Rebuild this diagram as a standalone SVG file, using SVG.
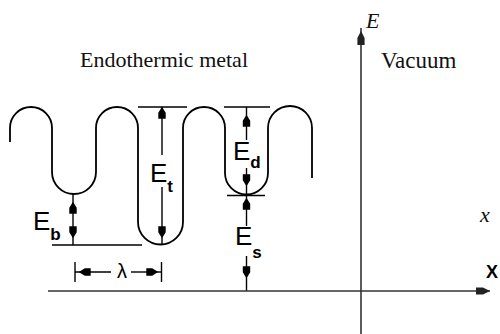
<svg xmlns="http://www.w3.org/2000/svg" width="500" height="334" viewBox="0 0 500 334">
<style>
.ln{fill:none;stroke:#000;stroke-width:1.4}
.ax{fill:none;stroke:#333;stroke-width:1.6}
.wave{fill:none;stroke:#000;stroke-width:1.8;stroke-linejoin:round}
.ser{font-family:"Liberation Serif","Times New Roman",serif;fill:#111}
.lab{font-family:"Liberation Sans",Arial,sans-serif;font-size:26px;fill:#000}
.sub{font-size:17px;font-weight:bold}
.ah{fill:#000}
</style>
<defs>
<path id="ah" d="M0,0 L3,5 L3,10 L-3,10 L-3,5 Z"/>
</defs>
<rect width="500" height="334" fill="#fff"/>
<g id="wave">
<path class="wave" d="M10,142 L10,128 A21,21 0 0 1 52,128 L52,172 A22,22 0 0 0 96,172 L96,128 A21,21 0 0 1 138,128 L138,222 A22.5,22.5 0 0 0 183,222 L183,128 A21,21 0 0 1 225,128 L225,173 A21.5,21.5 0 0 0 268,173 L268,128 A22,22 0 0 1 312,128 L312,178"/>
</g>
<g id="connectors">
<g id="refLines" class="ln">
<line x1="138" y1="107" x2="187" y2="107"/>
<line x1="224" y1="107" x2="270" y2="107"/>
<line x1="52" y1="245" x2="142" y2="245"/>
<line x1="227" y1="195.5" x2="265" y2="195.5"/>
</g>
<g id="dimEb" class="ln">
<line x1="73" y1="194" x2="73" y2="245"/>
<use href="#ah" class="ah" transform="translate(73,203)"/>
<use href="#ah" class="ah" transform="translate(73,237) rotate(180)"/>
</g>
<g id="dimEt" class="ln">
<line x1="162" y1="107" x2="162" y2="155"/>
<line x1="162" y1="187" x2="162" y2="244"/>
<use href="#ah" class="ah" transform="translate(162,108)"/>
<use href="#ah" class="ah" transform="translate(162,237) rotate(180)"/>
</g>
<g id="dimEd" class="ln">
<line x1="246.5" y1="107" x2="246.5" y2="140"/>
<line x1="246.5" y1="168" x2="246.5" y2="195"/>
<use href="#ah" class="ah" transform="translate(246.5,116)"/>
<use href="#ah" class="ah" transform="translate(246.5,185) rotate(180)"/>
</g>
<g id="dimEs" class="ln">
<line x1="246.5" y1="196" x2="246.5" y2="226"/>
<line x1="246.5" y1="256" x2="246.5" y2="291"/>
<use href="#ah" class="ah" transform="translate(246.5,199)"/>
<use href="#ah" class="ah" transform="translate(246.5,277) rotate(180)"/>
</g>
<g id="dimLambda" class="ln">
<line x1="75" y1="262" x2="75" y2="282"/>
<line x1="161.5" y1="262" x2="161.5" y2="282"/>
<line x1="75" y1="272" x2="111" y2="272"/>
<line x1="131" y1="272" x2="161.5" y2="272"/>
<use href="#ah" class="ah" transform="translate(80,272) rotate(-90)"/>
<use href="#ah" class="ah" transform="translate(157,272) rotate(90)"/>
</g>
<g id="axes" class="ax">
<line x1="48" y1="291" x2="490" y2="291"/>
<line x1="361" y1="334" x2="361" y2="28"/>
<use href="#ah" fill="#222" stroke="none" transform="translate(490,291) rotate(90) scale(1.2,1.4)"/>
<use href="#ah" fill="#222" stroke="none" transform="translate(361,31) scale(1.2,1.4)"/>
</g>
</g>
<g id="labels">
<text class="ser" x="248" y="67" font-size="22" text-anchor="end">Endothermic metal</text>
<text class="ser" x="381" y="68" font-size="23">Vacuum</text>
<text class="ser" x="366" y="28" font-size="22" font-style="italic">E</text>
<text class="ser" x="480" y="222" font-size="22" font-style="italic">x</text>
<text x="486" y="278" font-family="Liberation Sans,Arial,sans-serif" font-size="18" font-weight="bold">X</text>
<text class="lab" x="33" y="230">E<tspan class="sub" dy="10">b</tspan></text>
<text class="lab" x="150" y="182">E<tspan class="sub" dy="10">t</tspan></text>
<text class="lab" x="233" y="160">E<tspan class="sub" dy="8">d</tspan></text>
<text class="lab" x="235" y="245">E<tspan class="sub" dy="13">s</tspan></text>
<text x="122" y="278" font-family="Liberation Sans,Arial,sans-serif" font-size="20" text-anchor="middle">λ</text>
</g>
</svg>
